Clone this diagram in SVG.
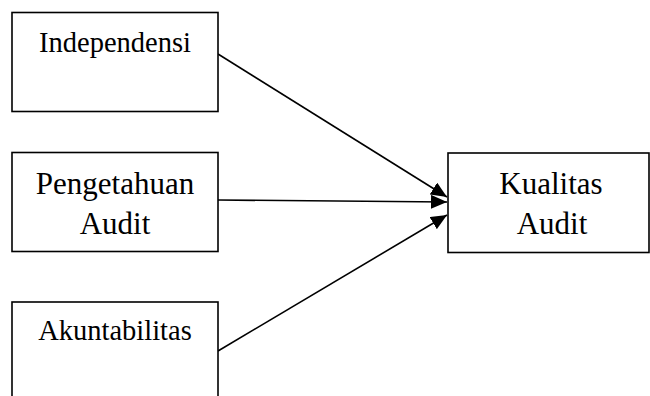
<svg xmlns="http://www.w3.org/2000/svg" width="650" height="396" viewBox="0 0 650 396">
<style>
.box{fill:#fff;stroke:#000;stroke-width:1.6}
.t{font-family:"Liberation Serif","Times New Roman",serif;fill:#000;text-anchor:middle}
.s{font-size:28.5px}
.l{font-size:31px}
.c{stroke:#000;stroke-width:1.6;fill:none;marker-end:url(#ah)}
</style>
<defs>
<marker id="ah" markerUnits="userSpaceOnUse" markerWidth="16" markerHeight="14" refX="16" refY="7" orient="auto">
<path d="M0,0 L16,7 L0,14 Z" fill="#000"/>
</marker>
</defs>
<rect width="650" height="396" fill="#fff"/>
<g id="connectors">
<line class="c" x1="218" y1="54" x2="447" y2="197"/>
<line class="c" x1="218" y1="200" x2="447" y2="202"/>
<line class="c" x1="218" y1="351" x2="447" y2="215"/>
</g>
<g id="independensi">
<rect class="box" x="12" y="12.5" width="206" height="99"/>
<text class="t s" x="115" y="52">Independensi</text>
</g>
<g id="pengetahuan">
<rect class="box" x="12" y="152.5" width="206" height="99"/>
<text class="t l" x="115" y="194">Pengetahuan</text>
<text class="t l" x="115" y="234">Audit</text>
</g>
<g id="akuntabilitas">
<rect class="box" x="12" y="302" width="206" height="110"/>
<text class="t s" x="115" y="340">Akuntabilitas</text>
</g>
<g id="kualitas">
<rect class="box" x="448" y="153" width="201" height="99.5"/>
<text class="t l" x="551" y="194">Kualitas</text>
<text class="t l" x="552" y="234">Audit</text>
</g>
</svg>
